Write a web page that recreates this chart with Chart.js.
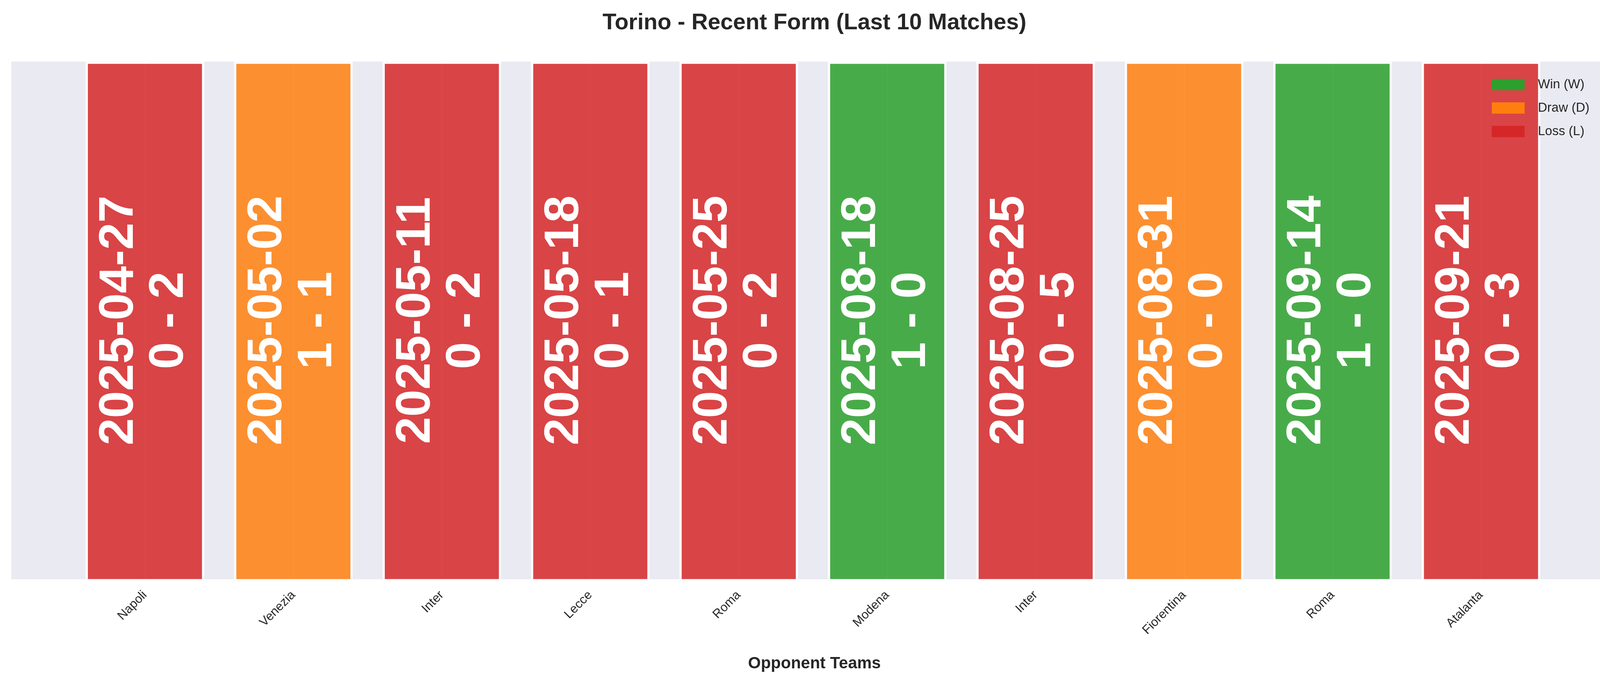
<!DOCTYPE html>
<html><head><meta charset="utf-8">
<script src="https://cdn.jsdelivr.net/npm/chart.js@4"></script>
<style>html,body{margin:0;padding:0;background:#fff;overflow:hidden}#w{width:4170px;height:1769px}canvas{display:block}</style>
</head><body><div id="w"><canvas id="c"></canvas></div>
<script>
const opponents = ["Napoli","Venezia","Inter","Lecce","Roma","Modena","Inter","Fiorentina","Roma","Atalanta"];
const dates = ["2025-04-27","2025-05-02","2025-05-11","2025-05-18","2025-05-25","2025-08-18","2025-08-25","2025-08-31","2025-09-14","2025-09-21"];
const scores = ["0 - 2","1 - 1","0 - 2","0 - 1","0 - 2","1 - 0","0 - 5","0 - 0","1 - 0","0 - 3"];
const results = ["L","D","L","L","L","W","L","D","W","L"];
const heights = [1,1,1,1,1,1,1,1,1,1];
const resColors = {W:"rgba(44,160,44,0.85)", D:"rgba(255,127,14,0.85)", L:"rgba(214,39,40,0.85)"};
const legendItems = [["Win (W)","#2ca02c"],["Draw (D)","#ff7f0e"],["Loss (L)","#d62728"]];
const FONT = "'Liberation Sans', Arial, sans-serif";

const bgPlugin = {
  id:'bg',
  beforeDraw(ch){const {ctx,chartArea:a}=ch;ctx.save();ctx.fillStyle='#eaeaf2';ctx.fillRect(a.left,a.top,a.right-a.left,a.bottom-a.top);ctx.restore();},
  afterDatasetsDraw(ch){
    const {ctx,chartArea:a}=ch;
    const meta=ch.getDatasetMeta(0);
    const cy=(a.top+a.bottom)/2;
    ctx.save();
    ctx.fillStyle='#fff';ctx.font="bold 125px "+FONT;ctx.textAlign='center';ctx.textBaseline='middle';
    meta.data.forEach((el,i)=>{
      ctx.save();ctx.translate(el.x,cy);ctx.rotate(-Math.PI/2);
      ctx.fillText(dates[i],0,-66);ctx.fillText(scores[i],0,62);
      ctx.restore();
    });
    ctx.font="33px "+FONT;ctx.textAlign='left';
    legendItems.forEach((it,k)=>{
      const y=216+k*60;
      ctx.fillStyle=it[1];ctx.fillRect(3819,y-14,84,29);
      ctx.fillStyle='#262626';ctx.fillText(it[0],3937,y+1);
    });
    ctx.restore();
  }
};

new Chart(document.getElementById('c'),{
  type:'bar',
  data:{datasets:[{data:heights.map((h,i)=>({x:i,y:h})),
    backgroundColor:results.map(r=>resColors[r]),
    borderColor:'rgba(255,255,255,0.85)',borderWidth:6,
    barPercentage:0.8,categoryPercentage:1}]},
  options:{
    responsive:true,maintainAspectRatio:false,animation:false,devicePixelRatio:1,
    layout:{padding:{left:29,right:29,top:0,bottom:40}},
    plugins:{legend:{display:false},tooltip:{enabled:false},
      title:{display:true,text:'Torino - Recent Form (Last 10 Matches)',color:'#262626',
        font:{family:FONT,size:58,weight:'bold'},padding:{top:24,bottom:64}}},
    scales:{
      x:{type:'linear',min:-0.9,max:9.92,offset:false,
        afterBuildTicks(s){s.ticks=opponents.map((o,i)=>({value:i}));},
        ticks:{callback:(v)=>opponents[v],minRotation:45,maxRotation:45,autoSkip:false,
          color:'#262626',font:{family:FONT,size:32},padding:22},
        grid:{color:'#ffffff',lineWidth:3,drawTicks:false,offset:false},border:{display:false},
        title:{display:true,text:'Opponent Teams',color:'#262626',font:{family:FONT,size:42,weight:'bold'},padding:{top:20}}},
      y:{min:0,max:1,display:false}
    }
  },
  plugins:[bgPlugin]
});
</script></body></html>
